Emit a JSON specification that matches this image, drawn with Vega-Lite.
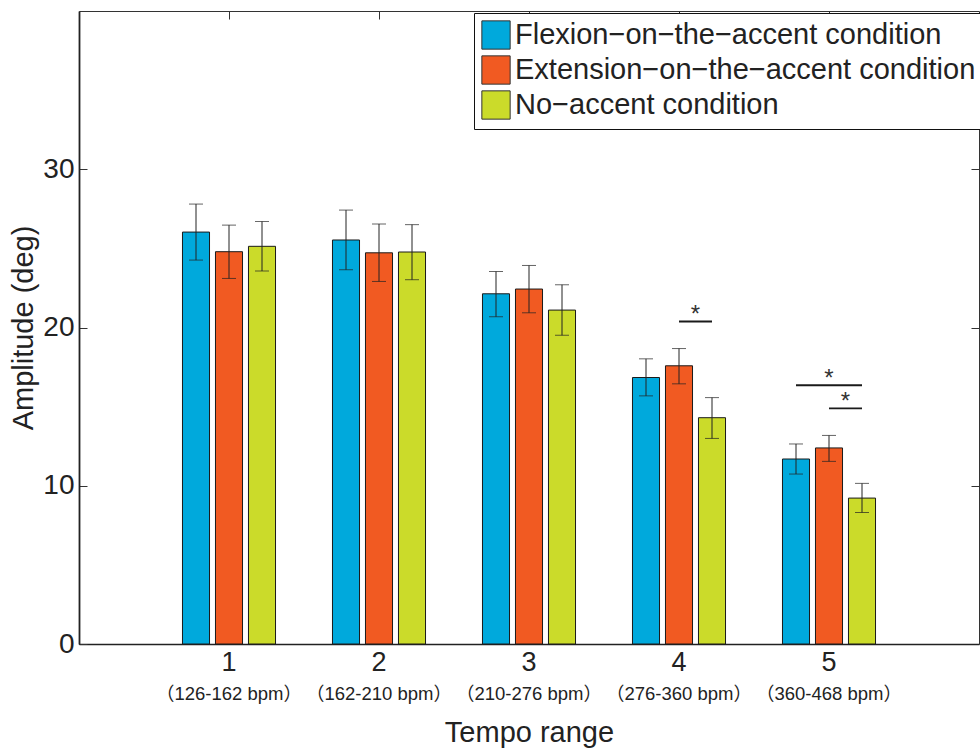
{
  "$schema": "https://vega.github.io/schema/vega-lite/v6.json",
  "width": 900,
  "height": 633,
  "autosize": "none",
  "padding": {"left": 79, "top": 11, "right": 1, "bottom": 105},
  "background": "white",
  "config": {
    "font": "Liberation Sans",
    "view": {"stroke": "#333333", "strokeWidth": 1},
    "axis": {"grid": false, "domainColor": "#222222", "tickColor": "#333333", "labelColor": "#222222", "titleColor": "#222222", "titleFontWeight": "normal", "labelFont": "Liberation Sans, Noto Sans CJK JP", "titleFont": "Liberation Sans"}
  },
  "datasets": {
    "bars": [
      {"tempo": "1", "cond": "Flexion−on−the−accent condition", "mean": 26.03, "lo": 24.26, "hi": 27.8},
      {"tempo": "1", "cond": "Extension−on−the−accent condition", "mean": 24.79, "lo": 23.1, "hi": 26.47},
      {"tempo": "1", "cond": "No−accent condition", "mean": 25.13, "lo": 23.57, "hi": 26.7},
      {"tempo": "2", "cond": "Flexion−on−the−accent condition", "mean": 25.53, "lo": 23.65, "hi": 27.42},
      {"tempo": "2", "cond": "Extension−on−the−accent condition", "mean": 24.72, "lo": 22.91, "hi": 26.54},
      {"tempo": "2", "cond": "No−accent condition", "mean": 24.77, "lo": 23.02, "hi": 26.5},
      {"tempo": "3", "cond": "Flexion−on−the−accent condition", "mean": 22.13, "lo": 20.68, "hi": 23.54},
      {"tempo": "3", "cond": "Extension−on−the−accent condition", "mean": 22.43, "lo": 20.93, "hi": 23.92},
      {"tempo": "3", "cond": "No−accent condition", "mean": 21.1, "lo": 19.51, "hi": 22.7},
      {"tempo": "4", "cond": "Flexion−on−the−accent condition", "mean": 16.84, "lo": 15.68, "hi": 18.02},
      {"tempo": "4", "cond": "Extension−on−the−accent condition", "mean": 17.58, "lo": 16.44, "hi": 18.67},
      {"tempo": "4", "cond": "No−accent condition", "mean": 14.3, "lo": 12.99, "hi": 15.57},
      {"tempo": "5", "cond": "Flexion−on−the−accent condition", "mean": 11.69, "lo": 10.74, "hi": 12.64},
      {"tempo": "5", "cond": "Extension−on−the−accent condition", "mean": 12.39, "lo": 11.54, "hi": 13.18},
      {"tempo": "5", "cond": "No−accent condition", "mean": 9.22, "lo": 8.31, "hi": 10.15}
    ],
    "siglines": [
      {"tempo": "4", "pair": "a", "pos": "E", "y": 20.38},
      {"tempo": "4", "pair": "a", "pos": "N", "y": 20.38},
      {"tempo": "5", "pair": "b", "pos": "F", "y": 16.35},
      {"tempo": "5", "pair": "b", "pos": "N", "y": 16.35},
      {"tempo": "5", "pair": "c", "pos": "E", "y": 14.89},
      {"tempo": "5", "pair": "c", "pos": "N", "y": 14.89}
    ],
    "stars": [
      {"tempo": "4", "pos": "EN", "y": 20.38, "label": "*"},
      {"tempo": "5", "pos": "E", "y": 16.35, "label": "*"},
      {"tempo": "5", "pos": "EN", "y": 14.89, "label": "*"}
    ]
  },
  "layer": [
    {
      "data": {"name": "bars"},
      "mark": {"type": "bar", "stroke": "#1a1a1a", "strokeWidth": 1},
      "encoding": {
        "x": {"field": "tempo", "type": "nominal", "scale": {"paddingInner": 0.34, "paddingOuter": 0.67},
          "axis": {"orient": "bottom", "title": null, "labelAngle": 0, "labelFontSize": 27, "labelPadding": 5, "ticks": false, "domainWidth": 1.5}},
        "xOffset": {"field": "cond", "type": "nominal", "scale": {"domain": ["Flexion−on−the−accent condition", "Extension−on−the−accent condition", "No−accent condition"], "paddingInner": 0.18, "paddingOuter": 0.09}},
        "y": {"field": "mean", "type": "quantitative", "scale": {"domain": [0, 40], "nice": false},
          "axis": {"orient": "left", "title": "Amplitude (deg)", "values": [0, 10, 20, 30], "labelFontSize": 28, "tickSize": -8, "labelPadding": 13, "domainWidth": 1.8, "titleFontSize": 29, "titlePadding": 4}},
        "color": {"field": "cond", "type": "nominal",
          "scale": {"domain": ["Flexion−on−the−accent condition", "Extension−on−the−accent condition", "No−accent condition"], "range": ["#00A9DC", "#F15A22", "#CBDB2A"]},
          "legend": {"title": null, "orient": "none", "legendX": 395, "legendY": 2, "symbolType": "square", "symbolSize": 800, "symbolStrokeColor": "#333333", "symbolStrokeWidth": 1, "labelFontSize": 29, "labelLimit": 470, "labelOffset": 4, "rowPadding": 1, "padding": 7, "strokeColor": "#111111", "fillColor": "white", "labelColor": "#222222"}}
      }
    },
    {
      "data": {"name": "bars"},
      "mark": {"type": "rule", "color": "#222222", "strokeWidth": 1},
      "encoding": {
        "x": {"field": "tempo", "type": "nominal",
          "axis": {"orient": "bottom", "title": "Tempo range", "titleFontSize": 29, "titlePadding": 16, "labelAngle": 0, "labelFontSize": 18.5, "labelPadding": 40, "ticks": false, "domain": false,
            "labelExpr": "{'1': '（126-162 bpm）', '2': '（162-210 bpm）', '3': '（210-276 bpm）', '4': '（276-360 bpm）', '5': '（360-468 bpm）'}[datum.value]"}},
        "xOffset": {"field": "cond", "type": "nominal", "scale": {"domain": ["Flexion−on−the−accent condition", "Extension−on−the−accent condition", "No−accent condition"], "paddingInner": 0.18, "paddingOuter": 0.09}},
        "y": {"field": "lo", "type": "quantitative",
          "axis": {"orient": "right", "title": null, "labels": false, "domain": false, "tickSize": -8, "values": [10, 20, 30]}},
        "y2": {"field": "hi"}
      }
    },
    {
      "data": {"name": "bars"},
      "mark": {"type": "tick", "color": "#222222", "thickness": 1, "size": 14, "orient": "horizontal"},
      "encoding": {
        "x": {"field": "tempo", "type": "nominal",
          "axis": {"orient": "top", "title": null, "labels": false, "domain": false, "tickSize": -8}},
        "xOffset": {"field": "cond", "type": "nominal", "scale": {"domain": ["Flexion−on−the−accent condition", "Extension−on−the−accent condition", "No−accent condition"], "paddingInner": 0.18, "paddingOuter": 0.09}},
        "y": {"field": "lo", "type": "quantitative", "axis": null}
      }
    },
    {
      "data": {"name": "bars"},
      "mark": {"type": "tick", "color": "#222222", "thickness": 1, "size": 14, "orient": "horizontal"},
      "encoding": {
        "x": {"field": "tempo", "type": "nominal", "axis": null},
        "xOffset": {"field": "cond", "type": "nominal", "scale": {"domain": ["Flexion−on−the−accent condition", "Extension−on−the−accent condition", "No−accent condition"], "paddingInner": 0.18, "paddingOuter": 0.09}},
        "y": {"field": "hi", "type": "quantitative", "axis": null}
      }
    },
    {
      "data": {"name": "siglines"},
      "mark": {"type": "line", "color": "#1a1a1a", "strokeWidth": 1.8},
      "encoding": {
        "x": {"field": "tempo", "type": "nominal", "axis": null},
        "xOffset": {"field": "pos", "type": "nominal", "scale": {"type": "point", "domain": ["F", "FE", "E", "EN", "N"], "padding": 1}},
        "y": {"field": "y", "type": "quantitative", "axis": null},
        "detail": {"field": "pair", "type": "nominal"}
      }
    },
    {
      "data": {"name": "stars"},
      "mark": {"type": "text", "color": "#333333", "fontSize": 24, "baseline": "alphabetic", "dy": 1},
      "encoding": {
        "x": {"field": "tempo", "type": "nominal", "axis": null},
        "xOffset": {"field": "pos", "type": "nominal", "scale": {"type": "point", "domain": ["F", "FE", "E", "EN", "N"], "padding": 1}},
        "y": {"field": "y", "type": "quantitative", "axis": null},
        "text": {"field": "label"}
      }
    }
  ],
  "resolve": {"scale": {"xOffset": "independent"}, "axis": {"x": "independent", "y": "independent"}}
}
